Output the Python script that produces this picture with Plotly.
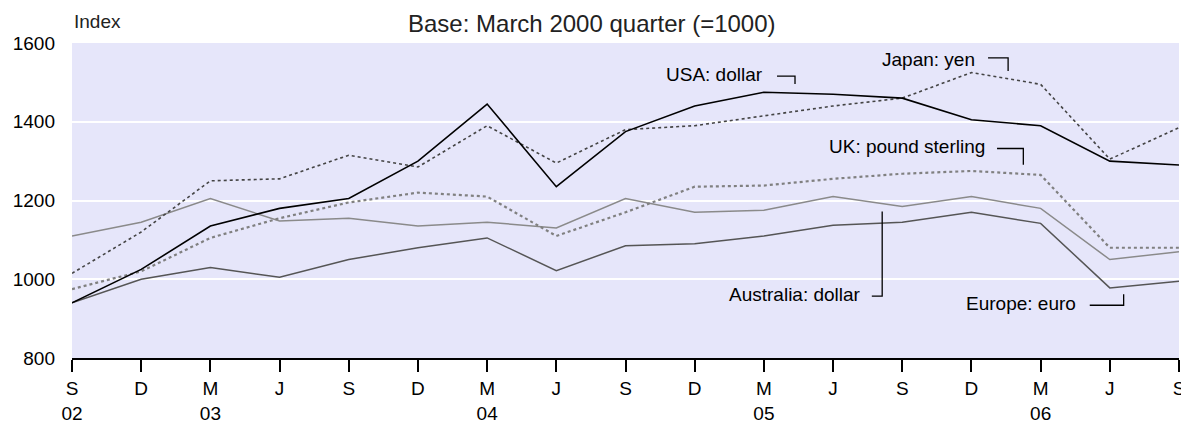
import plotly.graph_objects as go

# Quarters Sep 2002 .. Sep 2006
quarters = list(range(17))
tick_text = ["S<br>02", "D", "M<br>03", "J", "S", "D", "M<br>04", "J", "S",
             "D", "M<br>05", "J", "S", "D", "M<br>06", "J", "S"]

usa = [940, 1025, 1135, 1180, 1205, 1300, 1445, 1235, 1375, 1440, 1475, 1470,
       1460, 1405, 1390, 1300, 1290]
japan = [1015, 1120, 1250, 1255, 1315, 1285, 1390, 1295, 1380, 1390, 1415, 1440,
         1460, 1525, 1495, 1305, 1385]
uk = [975, 1020, 1105, 1155, 1195, 1220, 1210, 1110, 1170, 1235, 1238, 1255,
      1268, 1275, 1265, 1080, 1080]
australia = [1110, 1145, 1205, 1148, 1155, 1135, 1145, 1130, 1205, 1170, 1175, 1210,
             1185, 1210, 1180, 1050, 1070]
europe = [940, 1000, 1030, 1005, 1050, 1080, 1105, 1022, 1085, 1090, 1110, 1137,
          1145, 1170, 1142, 978, 995]

FONT = "Liberation Sans, Arial, sans-serif"
FS = 19

fig = go.Figure()
series = [
    (australia, "#8a8a8a", "solid", 1.5),
    (europe, "#555555", "solid", 1.5),
    (uk, "#808080", "dot", 2.2),
    (japan, "#444444", "dot", 1.6),
    (usa, "#000000", "solid", 1.6),
]
for vals, col, dash, w in series:
    fig.add_trace(go.Scatter(x=quarters, y=vals, mode="lines",
                             line=dict(color=col, dash=dash, width=w),
                             showlegend=False))

# labels with their bracket leaders
labels = [
    ("USA: dollar", 10.02, 1519),
    ("Japan: yen", 13.08, 1557),
    ("UK: pound sterling", 13.22, 1337),
    ("Australia: dollar", 11.43, 962),
    ("Europe: euro", 14.54, 939),
]
for txt, x, y in labels:
    fig.add_annotation(x=x, y=y, text=txt, showarrow=False, xanchor="right",
                       yanchor="middle", font=dict(size=FS, color="black", family=FONT))

leaders = [
    [(10.19, 1516), (10.45, 1516), (10.45, 1496)],
    [(13.24, 1562), (13.53, 1562), (13.53, 1529)],
    [(13.37, 1332), (13.75, 1332), (13.75, 1291)],
    [(11.56, 957), (11.71, 957), (11.71, 1172)],
    [(14.71, 934), (15.20, 934), (15.20, 962)],
]
for pts in leaders:
    path = "M " + " L ".join(f"{px},{py}" for px, py in pts)
    fig.add_shape(type="path", path=path, xref="x", yref="y",
                  line=dict(color="black", width=1.3))

# page body has an 8px margin, so the figure is a little smaller
fig.add_annotation(x=0.47, y=1.111, xref="paper", yref="paper",
                   text="Base: March 2000 quarter (=1000)", showarrow=False,
                   xanchor="center", yanchor="top",
                   font=dict(size=24, color="#222", family=FONT))
fig.add_annotation(x=0, y=1.067, xref="paper", yref="paper", text="Index",
                   showarrow=False, xanchor="left", yanchor="middle",
                   font=dict(size=FS, color="#222", family=FONT))

fig.update_layout(
    width=1181, height=418,
    margin=dict(l=64, r=10, t=35, b=68),
    paper_bgcolor="white",
    plot_bgcolor="#E6E6FA",
    font=dict(family=FONT, size=FS, color="black"),
    xaxis=dict(range=[0, 16], tickvals=quarters, ticktext=tick_text,
               showgrid=False, zeroline=False, showline=True, automargin=False,
               linecolor="black", linewidth=2, ticks="outside",
               ticklen=12, tickwidth=1.5, tickcolor="black"),
    yaxis=dict(range=[800, 1600], tickvals=[800, 1000, 1200, 1400, 1600],
               showgrid=True, gridcolor="white", gridwidth=2, zeroline=False,
               showline=False, ticks="", ticklabelstandoff=16, automargin=False),
)

fig.write_html("out.html")
